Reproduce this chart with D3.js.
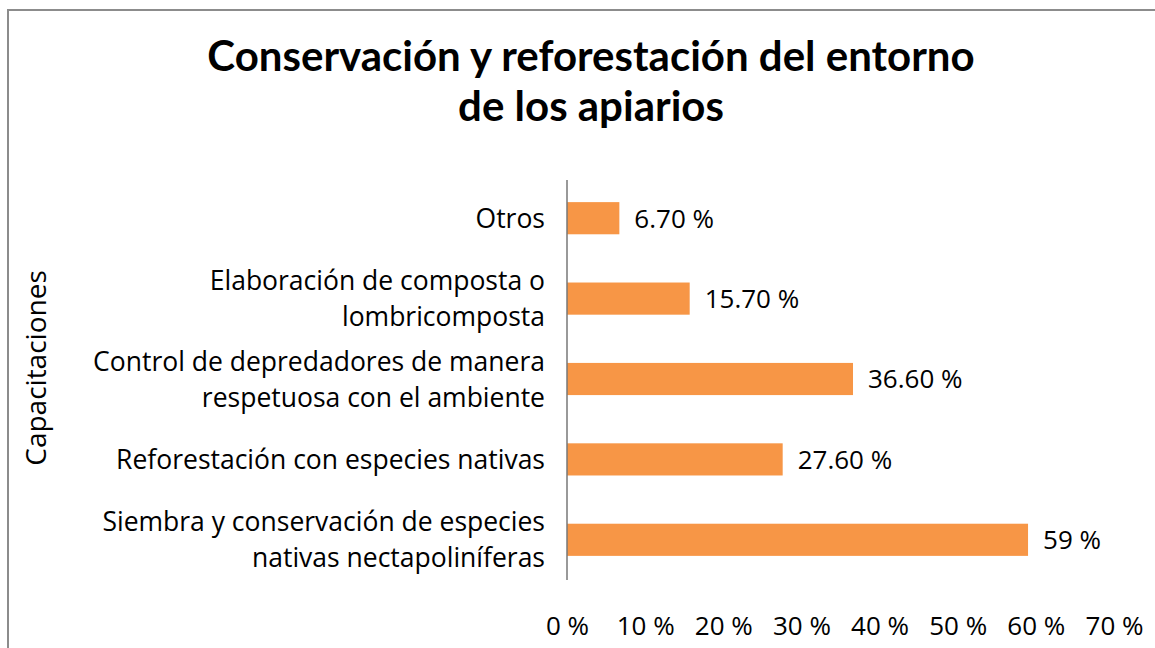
<!DOCTYPE html>
<html><head><meta charset="utf-8">
<script src="https://cdn.jsdelivr.net/npm/d3@7"></script>
<style>html,body{margin:0;padding:0;background:#fff;}svg{display:block;}</style>
</head><body>
<svg id="c" width="1155" height="648"></svg>
<script>
const categories = [
  ["Otros"],
  ["Elaboración de composta o", "lombricomposta"],
  ["Control de depredadores de manera", "respetuosa con el ambiente"],
  ["Reforestación con especies nativas"],
  ["Siembra y conservación de especies", "nativas nectapoliníferas"]
];
const values = [6.7, 15.7, 36.6, 27.6, 59];
const valueLabels = ["6.70 %", "15.70 %", "36.60 %", "27.60 %", "59 %"];
const tickValues = [0, 10, 20, 30, 40, 50, 60, 70];
const tickLabels = ["0 %", "10 %", "20 %", "30 %", "40 %", "50 %", "60 %", "70 %"];
const title = ["Conservación y reforestación del entorno", "de los apiarios"];
const yTitle = "Capacitaciones";

const svg = d3.select("#c");
const font = "'Open Sans', sans-serif";
const titleFont = "Lato, 'Open Sans', sans-serif";

svg.append("rect").attr("x", 8).attr("y", 10).attr("width", 1160).attr("height", 650)
  .attr("fill", "none").attr("stroke", "#8c8c8c").attr("stroke-width", 2);

svg.append("text").attr("text-anchor", "middle")
  .attr("font-family", titleFont).attr("font-weight", "bold").attr("font-size", 42).attr("fill", "#000")
  .selectAll("tspan").data(title).join("tspan")
  .attr("x", 591).attr("y", (d, i) => 71 + i * 50).text(d => d);

const x = d3.scaleLinear().domain([0, 70]).range([567, 1114]);
const y = d3.scaleBand().domain(d3.range(categories.length)).range([178, 580]).paddingInner(0.6).paddingOuter(0.3);

svg.selectAll("rect.bar").data(values).join("rect").attr("class", "bar")
  .attr("x", x(0)).attr("y", (d, i) => y(i))
  .attr("width", d => x(d) - x(0)).attr("height", y.bandwidth())
  .attr("fill", "#f79646");

svg.append("line").attr("x1", 567).attr("x2", 567).attr("y1", 180).attr("y2", 580)
  .attr("stroke", "#777").attr("stroke-width", 1.5);

svg.selectAll("text.val").data(values).join("text").attr("class", "val")
  .attr("x", d => x(d) + 15).attr("y", (d, i) => y(i) + y.bandwidth() / 2)
  .attr("dy", "0.36em").attr("font-family", font).attr("font-size", 26).attr("fill", "#000")
  .text((d, i) => valueLabels[i]);

const cat = svg.selectAll("text.cat").data(categories).join("text").attr("class", "cat")
  .attr("text-anchor", "end").attr("font-family", font).attr("font-size", 26.5).attr("fill", "#000");
cat.each(function(lines, i) {
  const cy = y(i) + y.bandwidth() / 2;
  const n = lines.length;
  d3.select(this).selectAll("tspan").data(lines).join("tspan")
    .attr("x", 545).attr("y", (d, j) => cy + (j - (n - 1) / 2) * 36).attr("dy", "0.36em").text(d => d);
});

const xAxis = d3.axisBottom(x).tickValues(tickValues).tickFormat((d, i) => tickLabels[i]).tickSize(0);
const gx = svg.append("g").attr("transform", "translate(0,614)").call(xAxis);
gx.select(".domain").remove();
gx.selectAll("text").attr("font-family", font).attr("font-size", 26).attr("fill", "#000");

svg.append("text").attr("transform", "translate(46,368) rotate(-90)")
  .attr("text-anchor", "middle").attr("font-family", font).attr("font-size", 28).attr("fill", "#000")
  .text(yTitle);
</script>
</body></html>
